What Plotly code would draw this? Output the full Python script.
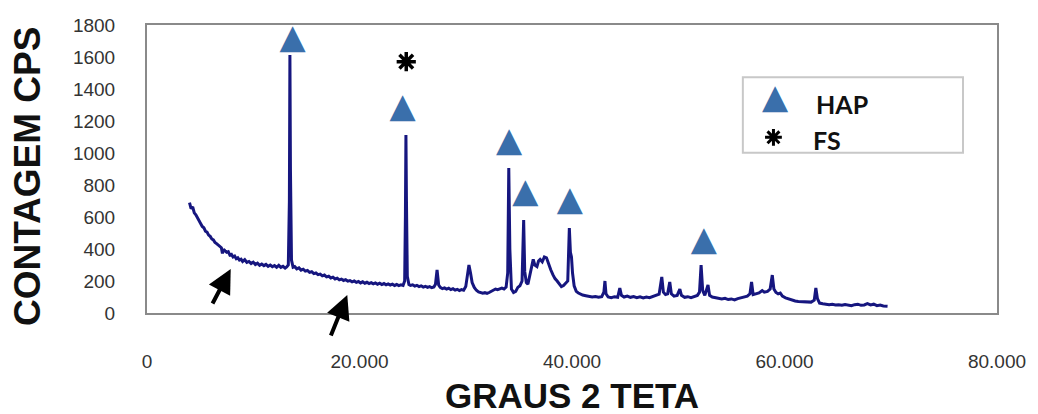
import plotly.graph_objects as go

# ---- data ----
two_theta = [4.0, 4.15, 4.3, 4.45, 4.6, 4.75, 4.9, 5.05, 5.2, 5.35, 5.5, 5.65, 5.8, 5.95,
             6.1, 6.25, 6.4, 6.55, 6.7, 6.85, 7.0, 7.1, 7.2, 7.35, 7.5, 7.65, 7.8, 7.95,
             8.1, 8.25, 8.4, 8.55, 8.7, 8.85, 9.0, 9.2, 9.4, 9.6, 9.8, 10.0, 10.2, 10.4,
             10.6, 10.8, 11.0, 11.2, 11.4, 11.6, 11.8, 12.0, 12.2, 12.4, 12.6, 12.8, 13.0,
             13.15, 13.3, 13.4, 13.45, 13.5, 13.6, 13.75, 13.9, 14.1, 14.3, 14.5, 14.7,
             14.9, 15.1, 15.3, 15.5, 15.7, 15.9, 16.1, 16.3, 16.5, 16.7, 16.9, 17.1, 17.3,
             17.5, 17.7, 17.9, 18.1, 18.3, 18.5, 18.7, 18.9, 19.1, 19.3, 19.5, 19.7, 19.9,
             20.1, 20.3, 20.5, 20.7, 20.9, 21.1, 21.3, 21.5, 21.7, 21.9, 22.1, 22.3, 22.5,
             22.7, 22.9, 23.1, 23.3, 23.5, 23.7, 23.9, 24.1, 24.25, 24.32, 24.37, 24.42,
             24.5, 24.65, 24.8, 25.0, 25.2, 25.4, 25.6, 25.8, 26.0, 26.2, 26.4, 26.6, 26.8,
             27.0, 27.15, 27.3, 27.45, 27.6, 27.8, 28.0, 28.2, 28.4, 28.6, 28.8, 29.0, 29.2,
             29.4, 29.6, 29.8, 30.0, 30.15, 30.3, 30.45, 30.6, 30.8, 31.0, 31.2, 31.4, 31.6,
             31.8, 32.0, 32.2, 32.4, 32.6, 32.8, 33.0, 33.2, 33.4, 33.6, 33.8, 33.95, 34.05,
             34.15, 34.3, 34.5, 34.7, 34.9, 35.1, 35.3, 35.45, 35.55, 35.7, 35.85, 36.0,
             36.2, 36.35, 36.5, 36.7, 36.85, 37.0, 37.2, 37.4, 37.6, 37.8, 38.0, 38.2, 38.4,
             38.6, 38.8, 39.0, 39.2, 39.4, 39.6, 39.75, 39.85, 39.95, 40.05, 40.2, 40.4,
             40.6, 40.8, 41.0, 41.3, 41.6, 41.9, 42.2, 42.5, 42.8, 43.0, 43.1, 43.2, 43.4,
             43.7, 44.0, 44.3, 44.5, 44.65, 44.9, 45.2, 45.5, 45.8, 46.1, 46.4, 46.7, 47.0,
             47.3, 47.6, 47.9, 48.2, 48.45, 48.6, 48.8, 49.0, 49.2, 49.35, 49.6, 49.9,
             50.15, 50.3, 50.6, 50.9, 51.2, 51.5, 51.8, 52.0, 52.15, 52.3, 52.5, 52.8,
             52.95, 53.2, 53.5, 53.8, 54.1, 54.4, 54.7, 55.0, 55.3, 55.6, 55.9, 56.2, 56.5,
             56.75, 56.9, 57.05, 57.3, 57.6, 57.9, 58.1, 58.4, 58.65, 58.85, 59.0, 59.2,
             59.4, 59.6, 59.8, 60.1, 60.4, 60.7, 61.0, 61.3, 61.6, 61.9, 62.2, 62.5, 62.8,
             62.95, 63.1, 63.3, 63.6, 63.9, 64.2, 64.5, 64.8, 65.1, 65.4, 65.7, 66.0, 66.3,
             66.6, 66.9, 67.2, 67.5, 67.8, 68.1, 68.4, 68.7, 69.0, 69.3, 69.7]

counts = [690, 652, 664, 626, 614, 596, 575, 566, 541, 533, 511, 506, 487, 479,
          463, 457, 441, 434, 423, 414, 408, 372, 398, 388, 379, 383, 362, 366,
          350, 356, 339, 345, 331, 336, 322, 333, 316, 322, 309, 318, 303, 311,
          298, 306, 296, 304, 292, 300, 289, 297, 286, 298, 285, 292, 281,
          288, 300, 700, 1612, 900, 330, 286, 290, 276, 282, 268, 274,
          262, 266, 254, 258, 246, 250, 240, 243, 232, 237, 226, 230, 219,
          224, 213, 218, 207, 212, 203, 208, 199, 203, 195, 200, 192, 197,
          188, 195, 186, 192, 184, 190, 182, 188, 180, 186, 178, 184, 176,
          182, 175, 180, 172, 178, 171, 176, 172, 200, 600, 1112, 700,
          230, 178, 172, 176, 168, 173, 165, 170, 162, 167, 160, 165, 158,
          163, 180, 270, 175, 160, 152, 157, 149, 155, 146, 152, 143, 148,
          140, 146, 142, 165, 220, 300, 250, 190, 160, 142, 132, 128, 124,
          127, 122, 128, 135, 140, 150, 146, 152, 155, 150, 162, 250, 906,
          400, 150, 128, 135, 160, 170, 200, 581, 260, 190, 180, 230,
          300, 335, 300, 290, 325, 335, 320, 350, 345, 300, 270, 240, 215,
          200, 180, 165, 172, 185, 200, 531, 380, 350, 250, 170, 135,
          125, 118, 112, 108, 104, 100, 103, 98, 102, 130, 200, 120, 100,
          96, 102, 98, 156, 110, 100, 106, 98, 103, 96, 101, 94, 100,
          96, 102, 110, 118, 225, 130, 115, 120, 194, 120, 105, 110,
          150, 110, 98, 102, 96, 104, 110, 130, 300, 140, 110, 175,
          110, 100, 96, 92, 88, 92, 84, 88, 82, 90, 95, 100, 105,
          120, 194, 115, 118, 125, 140, 130, 135, 150, 237, 150, 128,
          120, 125, 105, 95, 88, 80, 75, 72, 70, 68, 66, 68, 80,
          156, 90, 62, 58, 55, 52, 54, 50, 52, 48, 53, 50, 46,
          52, 55, 48, 50, 58, 50, 55, 46, 50, 44, 42]

# HAP peak markers (triangles) and FS marker (asterisk)
hap_x = [13.7, 24.05, 34.07, 35.6, 39.8, 52.4]
hap_y = [1712, 1278, 1066, 744, 700, 450]
fs_x = [24.4]
fs_y = [1571]

x_tick_vals = [0, 20, 40, 60, 80]
x_tick_text = ["0", "20.000", "40.000", "60.000", "80.000"]
y_tick_vals = [0, 200, 400, 600, 800, 1000, 1200, 1400, 1600, 1800]

# arrows (tip positions in data units)
arrow_x = [7.88, 18.85]
arrow_y = [275, 112]

TRI_COLOR = "#3a6fab"
LINE_COLOR = "#16167f"

fig = go.Figure()
fig.add_trace(go.Scatter(x=two_theta, y=counts, mode="lines",
                         line=dict(color=LINE_COLOR, width=3),
                         showlegend=False, hoverinfo="skip"))
fig.add_trace(go.Scatter(x=hap_x, y=hap_y, mode="text", text=["▲"] * len(hap_x),
                         textfont=dict(family="DejaVu Sans", size=34, color=TRI_COLOR),
                         textposition="middle center", cliponaxis=False,
                         showlegend=False, hoverinfo="skip"))
fig.add_trace(go.Scatter(x=fs_x, y=fs_y, mode="markers",
                         marker=dict(symbol="asterisk-open", size=16, color="black",
                                     line=dict(color="black", width=3.5)),
                         cliponaxis=False, showlegend=False, hoverinfo="skip"))

tick_font = dict(family="Liberation Sans, Arial, sans-serif", size=19, color="#333333")
fig.update_xaxes(range=[0, 80], tickvals=x_tick_vals, ticktext=x_tick_text,
                 showgrid=False, zeroline=False, showline=True, mirror=True,
                 linecolor="#8a8a8a", linewidth=2, ticks="", tickfont=tick_font,
                 ticklabelstandoff=30)
fig.update_yaxes(range=[0, 1800], tickvals=y_tick_vals,
                 showgrid=False, zeroline=False, showline=True, mirror=True,
                 linecolor="#8a8a8a", linewidth=2, ticks="", tickfont=tick_font,
                 ticklabelstandoff=26)

ytitle_font = dict(family="Liberation Sans, Arial, sans-serif", size=37, color="#111111")
xtitle_font = dict(family="Liberation Sans, Arial, sans-serif", size=35, color="#111111")
legend_font = dict(family="Lato, Liberation Sans, sans-serif", size=25, color="#111111")

annotations = [
    dict(text="<b>CONTAGEM CPS</b>", xref="paper", yref="paper", x=0, y=0.5,
         xanchor="center", yanchor="middle", textangle=-90, xshift=-120, yshift=-8,
         showarrow=False, font=ytitle_font),
    dict(text="<b>GRAUS 2 TETA</b>", xref="paper", yref="paper", x=0.5, y=0,
         xanchor="center", yanchor="middle", yshift=-82, showarrow=False, font=xtitle_font),
    # legend contents
    dict(text="▲", xref="paper", yref="paper", x=0.739, y=0.755, xanchor="center",
         yanchor="middle", showarrow=False,
         font=dict(family="DejaVu Sans", size=34, color=TRI_COLOR)),
    dict(text="<b>HAP</b>", xref="paper", yref="paper", x=0.785, y=0.727, xanchor="left",
         yanchor="middle", showarrow=False, font=legend_font),
    dict(text="<b>FS</b>", xref="paper", yref="paper", x=0.781, y=0.6, xanchor="left",
         yanchor="middle", showarrow=False, font=legend_font),
]
for ax_, ay_, px, py in [(-19, 36, arrow_x[0], arrow_y[0]), (-17, 42, arrow_x[1], arrow_y[1])]:
    annotations.append(dict(x=px, y=py, xref="x", yref="y", text="", showarrow=True,
                            arrowhead=2, arrowsize=1.2, arrowwidth=4, arrowcolor="black",
                            ax=ax_, ay=ay_, axref="pixel", ayref="pixel"))

fig.update_layout(
    width=1038, height=414,
    margin=dict(l=147, r=41, t=25, b=101),
    paper_bgcolor="white", plot_bgcolor="white",
    annotations=annotations,
    shapes=[dict(type="rect", xref="paper", yref="paper", x0=0.701, x1=0.96,
                 y0=0.556, y1=0.819, line=dict(color="#c8c8c8", width=2),
                 fillcolor="white", layer="below")],
)

# legend asterisk drawn as a marker on an overlay axis in 0..1 coordinates
fig.add_trace(go.Scatter(x=[0.737], y=[0.61], mode="markers", xaxis="x2", yaxis="y2",
                         marker=dict(symbol="asterisk-open", size=14, color="black",
                                     line=dict(color="black", width=3)),
                         showlegend=False, hoverinfo="skip", cliponaxis=False))
fig.update_layout(
    xaxis2=dict(overlaying="x", range=[0, 1], visible=False, anchor="y2"),
    yaxis2=dict(overlaying="y", range=[0, 1], visible=False, anchor="x2"),
)

fig.write_html("out.html")
